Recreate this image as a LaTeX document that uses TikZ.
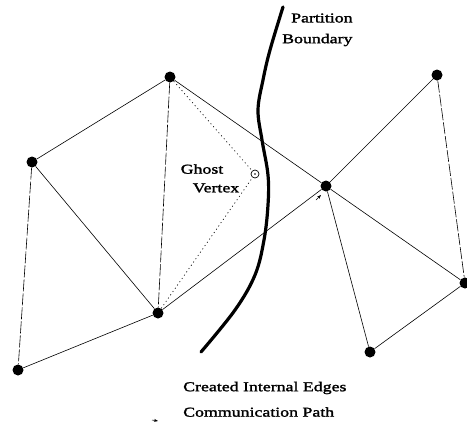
\documentclass[tikz,border=0pt]{standalone}
\usepackage{fontspec}
\setmainfont{Liberation Serif}
\newfontfamily\labfont[FakeStretch=1.32,FakeBold=1.8]{Liberation Serif}
\usetikzlibrary{arrows.meta}
\begin{document}
\begin{tikzpicture}[x=1pt,y=-1pt,
  vtx/.style={circle,fill=black,inner sep=0pt,minimum size=11pt},
  edge/.style={line width=0.6pt},
  dashedge/.style={line width=0.6pt,dash pattern=on 12pt off 2pt},
  dotedge/.style={line width=0.7pt,dash pattern=on 1pt off 3pt},
  lab/.style={font=\labfont\fontsize{13.5}{15}\selectfont,inner sep=0pt}]
\useasboundingbox (0,0) rectangle (467,426);
\node[vtx] (A) at (170,77) {};
\node[vtx] (B) at (32,162) {};
\node[vtx] (C) at (158,313) {};
\node[vtx] (D) at (18,370) {};
\node[vtx] (E) at (326,186) {};
\node[vtx] (F) at (437,75) {};
\node[vtx] (G) at (465,283) {};
\node[vtx] (H) at (370,352) {};
\node[circle,draw,line width=0.7pt,inner sep=0pt,minimum size=8pt] (gh) at (255,174) {};
\fill (gh.center) circle (0.8pt);
% edges
\draw[edge] (A) -- (B);
\draw[edge] (A) -- (E);
\draw[dashedge] (A) -- (C);
\draw[edge] (B) -- (C);
\draw[dashedge] (B) -- (D);
\draw[edge] (D) -- (C);
\draw[edge] (C) -- (E);
\draw[edge] (E) -- (F);
\draw[dashedge] (F) -- (G);
\draw[edge] (E) -- (G);
\draw[edge] (E) -- (H);
\draw[edge] (H) -- (G);
\draw[dotedge] (A) -- (gh);
\draw[dotedge] (C) -- (gh);
% partition boundary
\draw[line width=3.2pt,line cap=round] plot[smooth,tension=0.6] coordinates {(283,7) (270,50) (263,80) (258,110) (262,140) (268,175) (268,205) (264,240) (255,275) (235,310) (201,352)};
% labels
\node[lab,anchor=west] (p1) at (291,18) {Partition};
\node[lab,anchor=west] (p2) at (282,40) {Boundary};
\node[lab] (g1) at (202,169) {Ghost};
\node[lab] (g2) at (216,188) {Vertex};
\node[lab,anchor=west] (l1) at (183,388) {Created Internal Edges};
\node[lab,anchor=west] (l2) at (183,412) {Communication Path};
% small arrow marks
\coordinate (m1) at (316,200);
\coordinate (m2) at (321,195);
\draw[-{Stealth[length=4pt,width=3pt]},line width=0.5pt] (m1) -- (m2);
\coordinate (m3) at (152,420);
\coordinate (m4) at (158,421);
\draw[-{Stealth[length=4pt,width=3pt]},line width=0.5pt] (m3) -- (m4);
\end{tikzpicture}
\end{document}
